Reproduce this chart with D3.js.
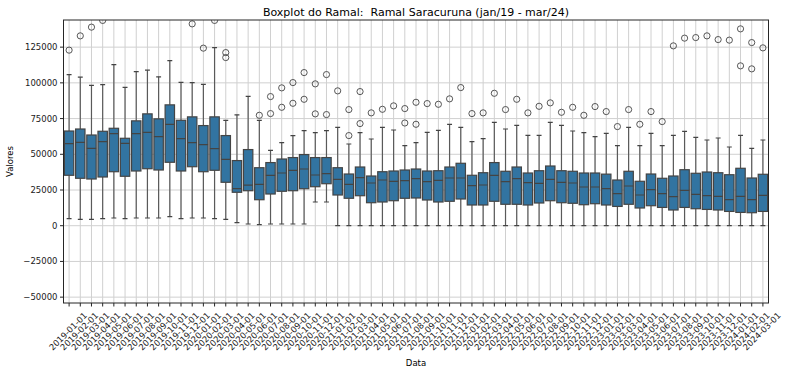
<!DOCTYPE html>
<html>
<head>
<meta charset="utf-8">
<script src="https://cdn.jsdelivr.net/npm/d3@7"></script>
<style>
  body { margin: 0; background: #fff; }
  svg { font-family: 'DejaVu Sans', sans-serif; }
</style>
</head>
<body>
<svg id="chart" width="791" height="370"></svg>
<script>
// months on the x axis
const dates = [
  '2019-01-01','2019-02-01','2019-03-01','2019-04-01','2019-05-01','2019-06-01','2019-07-01','2019-08-01','2019-09-01','2019-10-01','2019-11-01','2019-12-01',
  '2020-01-01','2020-02-01','2020-03-01','2020-04-01','2020-05-01','2020-06-01','2020-07-01','2020-08-01','2020-09-01','2020-10-01','2020-11-01','2020-12-01',
  '2021-01-01','2021-02-01','2021-03-01','2021-04-01','2021-05-01','2021-06-01','2021-07-01','2021-08-01','2021-09-01','2021-10-01','2021-11-01','2021-12-01',
  '2022-01-01','2022-02-01','2022-03-01','2022-04-01','2022-05-01','2022-06-01','2022-07-01','2022-08-01','2022-09-01','2022-10-01','2022-11-01','2022-12-01',
  '2023-01-01','2023-02-01','2023-03-01','2023-04-01','2023-05-01','2023-06-01','2023-07-01','2023-08-01','2023-09-01','2023-10-01','2023-11-01','2023-12-01',
  '2024-01-01','2024-02-01','2024-03-01'
]

// box statistics
const whiskerLow = [
  4900, 4400, 4400, 4900, 5400, 4900, 5400, 5400, 5400, 6300, 4900, 5400,
  5400, 4900, 4400, 2100, 1200, 700, 1200, 1200, 1200, 1200, 16600, 16600,
  0, 0, 0, 0, 0, 0, 0, 0, 0, 0, 0, 0,
  0, 0, 0, 0, 0, 0, 0, 0, 0, 0, 0, 0,
  0, 0, 0, 0, 0, 0, 0, 0, 0, 0, 0, 0,
  0, 0, 0
]
const q1 = [
  35300, 33200, 32700, 34100, 37800, 34600, 38300, 39900, 39000, 44400, 38300, 41300,
  37800, 38800, 30400, 23400, 24500, 18200, 22200, 24100, 24500, 25900, 27300, 29400,
  21500, 19200, 21000, 16100, 16600, 17500, 19200, 19400, 18000, 16600, 17100, 18700,
  14500, 14500, 17100, 15000, 15000, 14500, 15900, 17500, 16100, 15700, 14700, 15400,
  14500, 13500, 15000, 12400, 14000, 12800, 11000, 12800, 11900, 11400, 11000, 10000,
  9300, 9100, 10000
]
const median = [
  57500, 58400, 54200, 58900, 64500, 57700, 64500, 65400, 62400, 71000, 61000, 58200,
  56800, 54000, 46500, 25900, 28400, 29000, 35300, 36900, 38800, 39700, 35500, 36400,
  32500, 29000, 33600, 29900, 32000, 31100, 31500, 32900, 30800, 31800, 33400, 33400,
  28000, 28500, 35300, 30800, 32900, 30100, 29700, 32500, 30400, 29900, 27100, 27100,
  25900, 22400, 27800, 21500, 25200, 22400, 20300, 24800, 22000, 21000, 20600, 18200,
  20600, 18200, 21300
]
const q3 = [
  66300, 67700, 63500, 66100, 68200, 61200, 73400, 78300, 74800, 84600, 73800, 76200,
  70100, 76200, 63100, 45600, 53300, 40600, 44200, 46700, 47700, 49800, 47700, 47700,
  40600, 36200, 41100, 34800, 37800, 38300, 39000, 39700, 38300, 38500, 41100, 43700,
  35300, 37100, 44200, 38100, 41100, 36900, 38500, 41800, 38500, 38100, 36900, 36900,
  36100, 32000, 38100, 31100, 36200, 33200, 34800, 39200, 36700, 37600, 37100, 35700,
  40200, 33400, 36000
]
const whiskerHigh = [
  105800, 104000, 98300, 98800, 112800, 96900, 107900, 108900, 104200, 115600, 100400, 100200,
  99000, 124700, 73800, 77600, 90600, 73800, 52800, 58200, 63100, 66600, 65200, 66600,
  68900, 57200, 65200, 60700, 68900, 67000, 56100, 58200, 65400, 66800, 71000, 68900,
  58900, 61000, 72400, 67700, 70300, 63300, 63300, 72400, 70300, 66300, 65200, 62400,
  64700, 56100, 68900, 56100, 64700, 56100, 63300, 66100, 61900, 60000, 61400, 55100,
  63300, 54200, 60000
]
const outliers = [
  [122900], [132900], [139000], [143700], [], [], [], [], [], [], [], [141300],
  [124300], [143700], [121200, 117700], [], [], [77300], [90400, 78500], [96500, 82900], [100200, 85700], [107200, 88500], [99300, 78300], [105800, 77800],
  [94400], [81300, 63100], [93900, 71500], [79000], [81500], [83900], [82000, 71900], [86400, 71000], [85500], [85000], [88800], [96700],
  [78500], [79000], [92700], [81300], [88500], [79000], [83600], [86000], [79400], [82900], [77300], [83400],
  [79900], [69400], [81300], [71000], [79900], [72900], [125900], [131300], [131700], [132900], [130300], [129900],
  [137800, 111900], [128200, 109800], [124500]
]
const yTicks = [-50000, -25000, 0, 25000, 50000, 75000, 100000, 125000]

const boxes = dates.map((d, i) => ({
  date: d, lo: whiskerLow[i], q1: q1[i], med: median[i], q3: q3[i], hi: whiskerHigh[i], out: outliers[i]
}))

////////////////////////////////////////////////////////////////////////////////
// Layout
////////////////////////////////////////////////////////////////////////////////
const svg = d3.select('#chart')
const margin = { left: 63.5, right: 768.5, top: 20, bottom: 303 }
const lineColor = '#444444'
const fill = '#3274a1'

const x = d3.scaleBand().domain(dates).range([margin.left, margin.right])
const y = d3.scaleLinear().domain([-54100, 144000]).range([margin.bottom, margin.top])
const bw = x.bandwidth()
const cx = d => x(d) + bw / 2

// grid
svg.append('g')
  .selectAll('line')
  .data(dates)
  .join('line')
  .attr('x1', d => cx(d)).attr('x2', d => cx(d))
  .attr('y1', margin.top).attr('y2', margin.bottom)
  .attr('stroke', '#d0d0d0').attr('stroke-width', 1)

svg.append('g')
  .selectAll('line')
  .data(yTicks)
  .join('line')
  .attr('x1', margin.left).attr('x2', margin.right)
  .attr('y1', d => y(d)).attr('y2', d => y(d))
  .attr('stroke', '#d0d0d0').attr('stroke-width', 1)

////////////////////////////////////////////////////////////////////////////////
// Boxes
////////////////////////////////////////////////////////////////////////////////
svg.append('defs').append('clipPath').attr('id', 'clip')
  .append('rect')
  .attr('x', margin.left).attr('y', margin.top)
  .attr('width', margin.right - margin.left).attr('height', margin.bottom - margin.top)

const g = svg.append('g').attr('clip-path', 'url(#clip)')
const box = g.selectAll('g').data(boxes).join('g')

box.append('line')
  .attr('x1', d => cx(d.date)).attr('x2', d => cx(d.date))
  .attr('y1', d => y(d.lo)).attr('y2', d => y(d.q1))
  .attr('stroke', '#5a5a5a').attr('stroke-width', 1.2)
box.append('line')
  .attr('x1', d => cx(d.date)).attr('x2', d => cx(d.date))
  .attr('y1', d => y(d.q3)).attr('y2', d => y(d.hi))
  .attr('stroke', '#5a5a5a').attr('stroke-width', 1.2)

// caps
box.append('line')
  .attr('x1', d => cx(d.date) - bw * 0.22).attr('x2', d => cx(d.date) + bw * 0.22)
  .attr('y1', d => y(d.lo)).attr('y2', d => y(d.lo))
  .attr('stroke', lineColor).attr('stroke-width', 1.2)
box.append('line')
  .attr('x1', d => cx(d.date) - bw * 0.22).attr('x2', d => cx(d.date) + bw * 0.22)
  .attr('y1', d => y(d.hi)).attr('y2', d => y(d.hi))
  .attr('stroke', lineColor).attr('stroke-width', 1.2)

box.append('rect')
  .attr('x', d => cx(d.date) - bw * 0.42)
  .attr('width', bw * 0.84)
  .attr('y', d => y(d.q3))
  .attr('height', d => y(d.q1) - y(d.q3))
  .attr('fill', fill)
  .attr('stroke', lineColor).attr('stroke-width', 1.2)

box.append('line')
  .attr('x1', d => cx(d.date) - bw * 0.42).attr('x2', d => cx(d.date) + bw * 0.42)
  .attr('y1', d => y(d.med)).attr('y2', d => y(d.med))
  .attr('stroke', lineColor).attr('stroke-width', 1.2)

box.selectAll('circle')
  .data(d => d.out.map(v => ({ date: d.date, v: v })))
  .join('circle')
  .attr('cx', d => cx(d.date))
  .attr('cy', d => y(d.v))
  .attr('r', 3.1)
  .attr('fill', 'none')
  .attr('stroke', lineColor).attr('stroke-width', 0.9)

////////////////////////////////////////////////////////////////////////////////
// Axes
////////////////////////////////////////////////////////////////////////////////
svg.append('rect')
  .attr('x', margin.left).attr('y', margin.top)
  .attr('width', margin.right - margin.left).attr('height', margin.bottom - margin.top)
  .attr('fill', 'none').attr('stroke', '#262626').attr('stroke-width', 1)

// rotated labels are centred on their tick, as matplotlib does with rotation=45
const xAxis = svg.append('g')
xAxis.selectAll('line')
  .data(dates)
  .join('line')
  .attr('x1', d => cx(d)).attr('x2', d => cx(d))
  .attr('y1', margin.bottom).attr('y2', margin.bottom + 3.5)
  .attr('stroke', '#262626')
xAxis.selectAll('text')
  .data(dates)
  .join('text')
  .attr('transform', d => 'translate(' + (cx(d) + 18.5) + ',' + (margin.bottom + 13) + ') rotate(-45)')
  .attr('text-anchor', 'end')
  .attr('font-size', 8.5)
  .attr('fill', '#1a1a1a')
  .text(d => d)

const yAxis = svg.append('g')
yAxis.selectAll('line')
  .data(yTicks)
  .join('line')
  .attr('x1', margin.left - 3.5).attr('x2', margin.left)
  .attr('y1', d => y(d)).attr('y2', d => y(d))
  .attr('stroke', '#262626')
yAxis.selectAll('text')
  .data(yTicks)
  .join('text')
  .attr('x', margin.left - 6)
  .attr('y', d => y(d))
  .attr('dy', '0.35em')
  .attr('text-anchor', 'end')
  .attr('font-size', 8.5)
  .attr('fill', '#1a1a1a')
  .text(d => (d < 0 ? '\u2212' + Math.abs(d) : d))

svg.append('text')
  .attr('x', (margin.left + margin.right) / 2).attr('y', 15.5)
  .attr('text-anchor', 'middle')
  .attr('font-size', 11)
  .style('white-space', 'pre')
  .text('Boxplot do Ramal:  Ramal Saracuruna (jan/19 - mar/24)')

svg.append('text')
  .attr('x', (margin.left + margin.right) / 2).attr('y', 366)
  .attr('text-anchor', 'middle')
  .attr('font-size', 8.5)
  .text('Data')

svg.append('text')
  .attr('transform', 'translate(13,' + (margin.top + margin.bottom) / 2 + ') rotate(-90)')
  .attr('text-anchor', 'middle')
  .attr('font-size', 8.5)
  .text('Valores')
</script>
</body>
</html>
